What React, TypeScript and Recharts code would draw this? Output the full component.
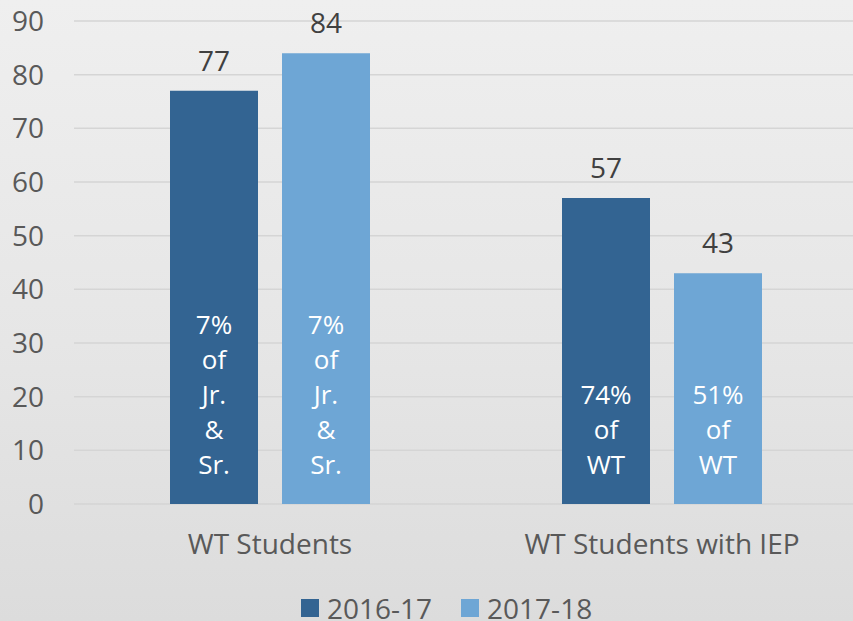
import React from "react";
import { BarChart, Bar, XAxis, YAxis, CartesianGrid, Legend, LabelList } from "recharts";

const categories = ["WT Students", "WT Students with IEP"];
const seriesNames = ["2016-17", "2017-18"];
const values2016 = [77, 57];
const values2017 = [84, 43];
const notes2016 = ["7%\nof\nJr.\n&\nSr.", "74%\nof\nWT"];
const notes2017 = ["7%\nof\nJr.\n&\nSr.", "51%\nof\nWT"];
const yTicks = [0, 10, 20, 30, 40, 50, 60, 70, 80, 90];

const data = categories.map((name, i) => ({
  name,
  v16: values2016[i],
  v17: values2017[i],
  n16: notes2016[i],
  n17: notes2017[i],
}));

const DARK = "#336492";
const LIGHT = "#6ea6d5";
const FONT = "'Open Sans', sans-serif";
const TICK = "#595959";

// multi-line note drawn from the bottom of the bar upward
function renderNote(props: any) {
  const { x, y, width, height, value } = props;
  if (value == null) return null;
  const lines = String(value).split("\n");
  const lineH = 35;
  const lastBase = y + height - 30;
  const cx = x + width / 2;
  return (
    <text textAnchor="middle" fill="#ffffff" fontSize={26} fontFamily={FONT}>
      {lines.map((ln, i) => (
        <tspan key={i} x={cx} y={lastBase - (lines.length - 1 - i) * lineH}>
          {ln}
        </tspan>
      ))}
    </text>
  );
}

function renderLegend() {
  const colors = [DARK, LIGHT];
  return (
    <div style={{ display: "flex", alignItems: "center", height: 34, paddingTop: 8, boxSizing: "border-box", paddingLeft: 301, fontFamily: FONT }}>
      {seriesNames.map((s, i) => (
        <div key={s} style={{ display: "flex", alignItems: "center", marginRight: 29 }}>
          <span style={{ width: 18, height: 18, background: colors[i], display: "inline-block", marginRight: 8 }} />
          <span style={{ fontSize: 28, lineHeight: "24px", color: TICK }}>{s}</span>
        </div>
      ))}
    </div>
  );
}

export default function App() {
  return (
    <div
      style={{
        position: "absolute",
        left: 0,
        top: 0,
        width: 853,
        height: 621,
        background: "linear-gradient(180deg, #efefef 0%, #e6e6e6 55%, #dcdcdc 100%)",
      }}
    >
      <BarChart
        width={853}
        height={621}
        data={data}
        margin={{ top: 21, right: -5, bottom: 23, left: 0 }}
        barSize={88}
        barGap={24}
      >
        <CartesianGrid vertical={false} stroke="#d5d5d5" strokeWidth={1.5} />
        <XAxis
          dataKey="name"
          axisLine={false}
          tickLine={false}
          tickSize={0}
          tickMargin={30}
          height={60}
          interval={0}
          tick={{ fontSize: 28, fill: TICK, fontFamily: FONT }}
        />
        <YAxis
          domain={[0, 90]}
          ticks={yTicks}
          width={74}
          axisLine={false}
          tickLine={false}
          tickSize={0}
          tickMargin={30}
          tick={{ fontSize: 28, fill: TICK, fontFamily: FONT }}
        />
        <Legend verticalAlign="bottom" content={renderLegend} wrapperStyle={{ left: 0, bottom: 0, width: 853 }} />
        <Bar dataKey="v16" name={seriesNames[0]} fill={DARK} isAnimationActive={false}>
          <LabelList dataKey="v16" position="top" offset={20} fill="#404040" fontSize={28} fontFamily={FONT} />
          <LabelList dataKey="n16" content={renderNote} />
        </Bar>
        <Bar dataKey="v17" name={seriesNames[1]} fill={LIGHT} isAnimationActive={false}>
          <LabelList dataKey="v17" position="top" offset={20} fill="#404040" fontSize={28} fontFamily={FONT} />
          <LabelList dataKey="n17" content={renderNote} />
        </Bar>
      </BarChart>
    </div>
  );
}
